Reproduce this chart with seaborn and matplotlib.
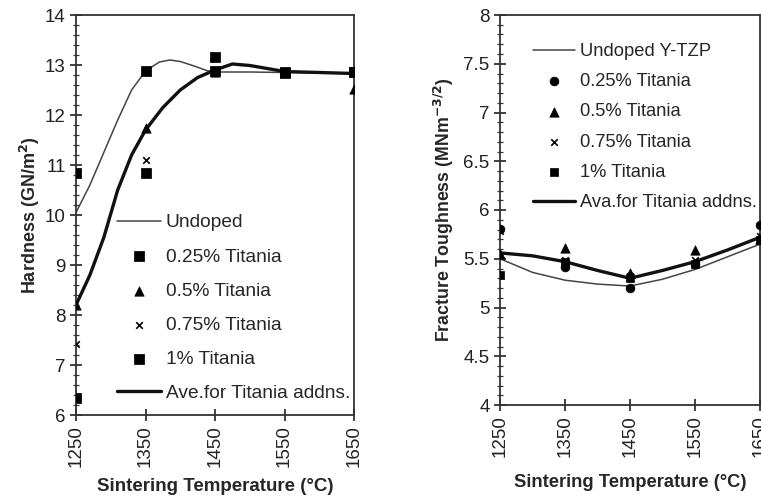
import matplotlib
matplotlib.use("Agg")
import matplotlib.pyplot as plt
import seaborn as sns
import numpy as np
from matplotlib.ticker import MultipleLocator, FuncFormatter

sns.set_style("ticks")
plt.rcParams['font.family'] = ['Liberation Sans', 'DejaVu Sans']

# ---------------- data ----------------
temps = [1250, 1350, 1450, 1550, 1650]
xticks = [1250, 1350, 1450, 1550, 1650]

# Hardness panel
hard_undoped_T = [1250, 1270, 1290, 1310, 1330, 1350, 1370, 1385, 1400, 1420, 1440, 1460, 1500, 1550, 1600, 1650]
hard_undoped_V = [10.05, 10.6, 11.25, 11.9, 12.5, 12.88, 13.06, 13.1, 13.07, 12.98, 12.88, 12.86, 12.86, 12.85, 12.84, 12.83]
hard_ave_T = [1250, 1270, 1290, 1310, 1330, 1350, 1375, 1400, 1425, 1450, 1475, 1500, 1525, 1550, 1600, 1650]
hard_ave_V = [8.2, 8.8, 9.55, 10.5, 11.2, 11.7, 12.15, 12.5, 12.75, 12.9, 13.02, 12.99, 12.93, 12.87, 12.85, 12.83]
hard_025 = [10.85, 12.88, 13.17, 12.86, 12.87]
hard_05 = [8.2, 11.75, 12.87, 12.86, 12.53]
hard_075 = [7.43, 11.11, 12.87, 12.86, 12.86]
hard_1 = [6.35, 10.85, 12.89, 12.85, 12.87]

# Toughness panel
tough_T = [1250, 1300, 1350, 1400, 1450, 1500, 1550, 1600, 1650]
tough_undoped = [5.5, 5.36, 5.28, 5.24, 5.22, 5.29, 5.39, 5.52, 5.65]
tough_ave = [5.56, 5.53, 5.47, 5.38, 5.3, 5.38, 5.47, 5.59, 5.72]
tough_025 = [5.81, 5.42, 5.2, 5.45, 5.85]
tough_05 = [5.55, 5.61, 5.35, 5.59, 5.7]
tough_075 = [5.78, 5.49, 5.32, 5.49, 5.73]
tough_1 = [5.33, 5.47, 5.3, 5.45, 5.69]

# ---------------- figure ----------------
fig = plt.figure(figsize=(7.61, 4.97), dpi=100)
ax1 = fig.add_axes([76/761, (497-415)/497, 278/761, 400/497])
ax2 = fig.add_axes([500/761, (497-405)/497, 260/761, 390/497])

def style_axis(ax):
    for s in ax.spines.values():
        s.set_color('#333333')
        s.set_linewidth(1.3)
    ax.tick_params(axis='both', which='major', direction='inout', length=8, width=1.2,
                   labelsize=13.5, colors='#222222')
    ax.tick_params(axis='y', which='minor', direction='inout', length=4, width=0.9, colors='#333333')
    ax.set_xticks(xticks)
    ax.set_xticklabels([str(t) for t in xticks], rotation=90)
    ax.set_xlim(1250, 1650)

fmt = FuncFormatter(lambda v, p: f"{v:g}")

# Left: hardness
sns.lineplot(x=hard_undoped_T, y=hard_undoped_V, ax=ax1, color='#444444', lw=1.1, label='Undoped')
sns.scatterplot(x=temps, y=hard_025, ax=ax1, marker='s', s=45, color='black', edgecolor='black', label='0.25% Titania', zorder=5)
sns.scatterplot(x=temps, y=hard_05, ax=ax1, marker='^', s=45, color='black', edgecolor='black', label='0.5% Titania', zorder=5)
sns.scatterplot(x=temps, y=hard_075, ax=ax1, marker='x', s=22, color='black', linewidth=1.2, label='0.75% Titania', zorder=5)
sns.scatterplot(x=temps, y=hard_1, ax=ax1, marker='s', s=45, color='black', edgecolor='black', label='1% Titania', zorder=5)
sns.lineplot(x=hard_ave_T, y=hard_ave_V, ax=ax1, color='#111111', lw=2.4, label='Ave.for Titania addns.')
style_axis(ax1)
ax1.set_ylim(6, 14)
ax1.yaxis.set_major_locator(MultipleLocator(1))
ax1.yaxis.set_minor_locator(MultipleLocator(0.2))
ax1.yaxis.set_major_formatter(fmt)
ax1.set_xlabel('Sintering Temperature (°C)', fontsize=13.5, fontweight='bold', labelpad=8)
ax1.set_ylabel('Hardness (GN/m$^\\mathbf{2}$)', fontsize=13, fontweight='bold', labelpad=2)
h, l = ax1.get_legend_handles_labels()
ax1.legend(h, l, loc='upper left', bbox_to_anchor=(117/761, 1-214/497), bbox_transform=fig.transFigure,
           frameon=False, fontsize=13.8, handlelength=2.3, handletextpad=0.25, labelspacing=0.87,
           borderaxespad=0, borderpad=0)

# Right: toughness
sns.lineplot(x=tough_T, y=tough_undoped, ax=ax2, color='#444444', lw=1.1, label='Undoped Y-TZP')
sns.scatterplot(x=temps, y=tough_025, ax=ax2, marker='o', s=40, color='black', edgecolor='black', label='0.25% Titania', zorder=5)
sns.scatterplot(x=temps, y=tough_05, ax=ax2, marker='^', s=45, color='black', edgecolor='black', label='0.5% Titania', zorder=5)
sns.scatterplot(x=temps, y=tough_075, ax=ax2, marker='x', s=22, color='black', linewidth=1.2, label='0.75% Titania', zorder=5)
sns.scatterplot(x=temps, y=tough_1, ax=ax2, marker='s', s=40, color='black', edgecolor='black', label='1% Titania', zorder=5)
sns.lineplot(x=tough_T, y=tough_ave, ax=ax2, color='#111111', lw=2.4, label='Ava.for Titania addns.')
style_axis(ax2)
ax2.set_ylim(4, 8)
ax2.yaxis.set_major_locator(MultipleLocator(0.5))
ax2.yaxis.set_minor_locator(MultipleLocator(0.1))
ax2.yaxis.set_major_formatter(fmt)
ax2.set_xlabel('Sintering Temperature (°C)', fontsize=13.2, fontweight='bold', labelpad=12)
ax2.set_ylabel('Fracture Toughness (MNm$^{\\mathbf{-3/2}}$)', fontsize=12.8, fontweight='bold', labelpad=5)
h, l = ax2.get_legend_handles_labels()
ax2.legend(h, l, loc='upper left', bbox_to_anchor=(533/761, 1-43/497), bbox_transform=fig.transFigure,
           frameon=False, fontsize=13.2, handlelength=2.3, handletextpad=0.25, labelspacing=0.72,
           borderaxespad=0, borderpad=0)

fig.savefig('out.png', dpi=100)
